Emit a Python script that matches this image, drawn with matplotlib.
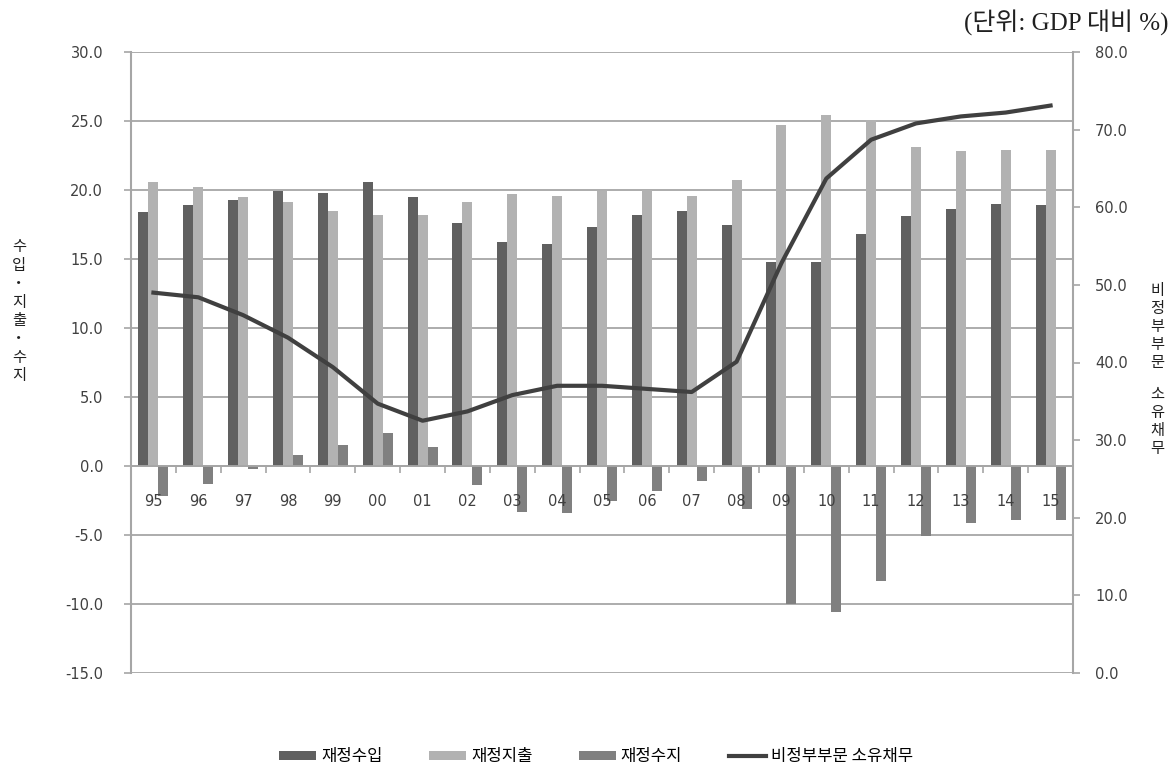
import numpy as np
import matplotlib.pyplot as plt
from matplotlib.ticker import FixedLocator, NullFormatter

plt.rcParams['font.family'] = ['Noto Sans CJK KR', 'DejaVu Sans']

# =============================
# Data (% of GDP)
# =============================
years = ['95', '96', '97', '98', '99', '00', '01', '02', '03', '04', '05',
         '06', '07', '08', '09', '10', '11', '12', '13', '14', '15']
revenue = [18.4, 18.9, 19.3, 19.9, 19.8, 20.6, 19.5, 17.6, 16.2, 16.1, 17.3,
           18.2, 18.5, 17.5, 14.8, 14.8, 16.8, 18.1, 18.6, 19.0, 18.9]
spending = [20.6, 20.2, 19.5, 19.1, 18.5, 18.2, 18.2, 19.1, 19.7, 19.6, 19.9,
            20.0, 19.6, 20.7, 24.7, 25.4, 25.1, 23.1, 22.8, 22.9, 22.9]
balance = [-2.2, -1.3, -0.2, 0.8, 1.5, 2.4, 1.4, -1.4, -3.3, -3.4, -2.5,
           -1.8, -1.1, -3.1, -10.0, -10.6, -8.3, -5.1, -4.1, -3.9, -3.9]
debt = [49.0, 48.4, 46.1, 43.2, 39.4, 34.7, 32.5, 33.7, 35.8, 37.0, 37.0,
        36.6, 36.2, 40.1, 52.8, 63.7, 68.7, 70.8, 71.7, 72.2, 73.1]

labels = ['재정수입', '재정지출', '재정수지', '비정부부문 소유채무']
left_title = '수입・지출・수지'
right_title = '비정부부문 소유채무'
unit_text = '(단위: GDP 대비 %)'

# =============================
# Figure
# =============================
fig = plt.figure(figsize=(11.75, 7.68), dpi=100)
ax = fig.add_axes([131 / 1175, 1 - 673 / 768, 942 / 1175, 621 / 768])
ax2 = ax.twinx()

x = np.arange(len(years))
w = 0.222
grey = '#a6a6a6'
tick_col = '#404040'

# gridlines kept under the bars, axis labels stay on top
ax.set_axisbelow(False)
for v in np.arange(-15, 31, 5):
    ax.axhline(v, color=grey, lw=1.3, zorder=0.5)

ax.bar(x - w, revenue, w, color='#606060', label=labels[0], zorder=1)
ax.bar(x, spending, w, color='#b2b2b2', label=labels[1], zorder=1)
ax.bar(x + w, balance, w, color='#808080', label=labels[2], zorder=1)

ax2.plot(x, debt, color='#404040', lw=3, label=labels[3], solid_joinstyle='round')

# left axis
ax.set_xlim(-0.5, len(years) - 0.5)
ax.set_ylim(-15, 30)
ax.set_yticks(np.arange(-15, 31, 5))
ax.set_yticklabels([f'{v:.1f}' for v in np.arange(-15, 31, 5)])
ax.tick_params(axis='y', direction='out', length=5, width=1.2, color=grey,
               labelsize=10.5, labelcolor=tick_col, pad=15)

# category axis on the zero line
ax.spines['bottom'].set_position(('data', 0))
ax.spines['bottom'].set_color(grey)
ax.spines['bottom'].set_linewidth(1.3)
ax.spines['left'].set_color(grey)
ax.spines['left'].set_linewidth(1.5)
ax.spines['top'].set_visible(False)
ax.spines['right'].set_visible(False)
ax.xaxis.set_major_locator(FixedLocator(x[:-1] + 0.5))
ax.xaxis.set_major_formatter(NullFormatter())
ax.xaxis.set_minor_locator(FixedLocator(x))
ax.set_xticklabels(years, minor=True)
ax.tick_params(axis='x', which='major', direction='out', length=5, width=1.2, color=grey)
ax.tick_params(axis='x', which='minor', length=0, pad=20, labelsize=10.5,
               labelcolor=tick_col)
for t in ax.get_xticklabels(minor=True):
    t.set_fontfamily('DejaVu Sans')

# right axis
ax2.set_ylim(0, 80)
ax2.set_yticks(np.arange(0, 81, 10))
ax2.set_yticklabels([f'{v:.1f}' for v in np.arange(0, 81, 10)])
ax2.tick_params(axis='y', direction='out', length=5, width=1.2, color=grey,
                labelsize=10.5, labelcolor=tick_col, pad=11)
for s in ['top', 'left', 'bottom']:
    ax2.spines[s].set_visible(False)
ax2.spines['right'].set_color(grey)
ax2.spines['right'].set_linewidth(1.5)

for t in ax.get_yticklabels() + ax2.get_yticklabels():
    t.set_fontfamily('DejaVu Sans')


def stacked_title(s, xpix, ypix, step):
    # one character per row, written top to bottom
    for i, ch in enumerate(s):
        if ch == ' ':
            ypix += step * 0.8
            continue
        fig.text(xpix / 1175, 1 - ypix / 768, ch, ha='center', va='center',
                 fontsize=11, color='#202020')
        ypix += step


stacked_title(left_title, 19, 247, 18.4)
stacked_title(right_title, 1157, 290, 18)

fig.text(1168 / 1175, 1 - 23 / 768, unit_text, ha='right', va='center',
         fontsize=18, family=['Liberation Serif', 'Noto Sans CJK KR'],
         color='#202020', fontweight='light')

# legend
h1, l1 = ax.get_legend_handles_labels()
h2, l2 = ax2.get_legend_handles_labels()
fig.legend(h1 + h2, l1 + l2, loc='center', bbox_to_anchor=(596 / 1175, 1 - 757 / 768),
           ncol=4, frameon=False, fontsize=12, handlelength=2.2, handleheight=0.45,
           handletextpad=0.3, columnspacing=2.8)

plt.savefig('out.png', dpi=100)
